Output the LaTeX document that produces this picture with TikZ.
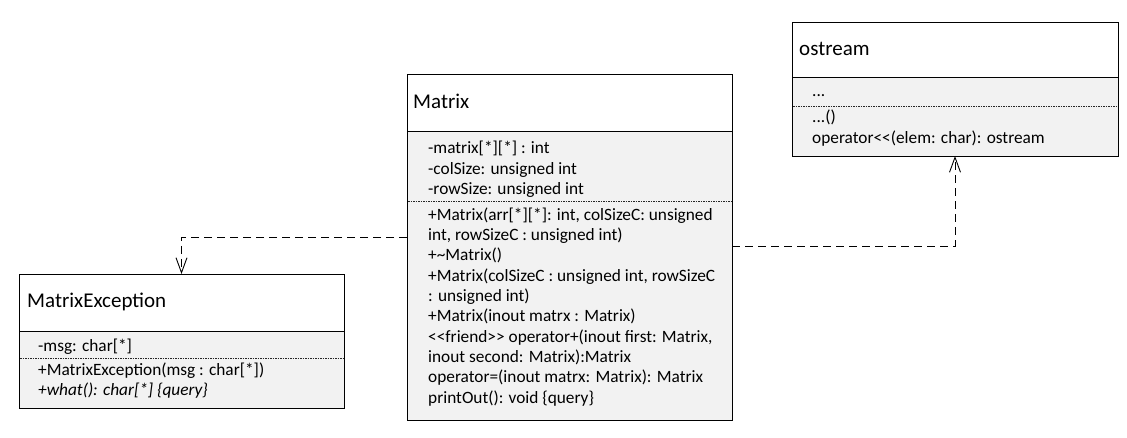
\documentclass[tikz,border=0pt]{standalone}
\usepackage{fontspec}
\setmainfont{Carlito}
\usetikzlibrary{arrows.meta}
\definecolor{bodygray}{HTML}{F2F2F2}
\begin{document}
\begin{tikzpicture}[x=1pt,y=-1pt,
  hdr/.style={draw=black, fill=white, line width=0.9pt, anchor=north west, inner sep=0pt, outer sep=0pt},
  bdy/.style={draw=black, fill=bodygray, line width=0.9pt, anchor=north west, inner sep=0pt, outer sep=0pt},
  ttl/.style={anchor=base west, inner sep=0pt, font=\fontsize{21}{25}\selectfont},
  txt/.style={anchor=base west, inner sep=0pt, font=\fontsize{17.3}{20}\selectfont},
  sep/.style={draw=black!85, line width=0.6pt, dash pattern=on 1.5pt off 1pt},
  dep/.style={draw=black, line width=0.9pt, dash pattern=on 8pt off 5pt, -{Straight Barb[length=15pt,width=11pt,line width=0.9pt]}}
]
\useasboundingbox (0,0) rectangle (1127,438);

% Matrix
\node[bdy, minimum width=325pt, minimum height=289pt] (mb) at (407,131) {};
\node[hdr, minimum width=325pt, minimum height=57pt] (mh) at (407,74) {};
\node[ttl] (mt) at (413,109) {Matrix};
\node[txt] (ma1) at (428,154) {-matrix[*][*] : int};
\node[txt] (ma2) at (428,174.3) {-colSize: unsigned int};
\node[txt] (ma3) at (428,194.6) {-rowSize: unsigned int};
\draw[sep] (408,201) -- (731,201);
\node[txt] (mo1) at (428,220.3) {+Matrix(arr[*][*]: int, colSizeC: unsigned};
\node[txt] (mo2) at (428,240.6) {int, rowSizeC : unsigned int)};
\node[txt] (mo3) at (428,260.9) {+\char`\~Matrix()};
\node[txt] (mo4) at (428,281.2) {+Matrix(colSizeC : unsigned int, rowSizeC};
\node[txt] (mo5) at (428,301.5) {: unsigned int)};
\node[txt] (mo6) at (428,321.8) {+Matrix(inout matrx : Matrix)};
\node[txt] (mo7) at (428,342.1) {<{}<friend>{}> operator+(inout first: Matrix,};
\node[txt] (mo8) at (428,362.4) {inout second: Matrix):Matrix};
\node[txt] (mo9) at (428,382.7) {operator=(inout matrx: Matrix): Matrix};
\node[txt] (mo10) at (428,403) {printOut(): void \{query\}};

% MatrixException
\node[bdy, minimum width=325pt, minimum height=77pt] (eb) at (19,331) {};
\node[hdr, minimum width=325pt, minimum height=57pt] (eh) at (19,274) {};
\node[ttl] (et) at (27,308) {MatrixException};
\node[txt] (ea1) at (38,351) {-msg: char[*]};
\draw[sep] (20,358.5) -- (343,358.5);
\node[txt] (eo1) at (38,375.5) {+MatrixException(msg : char[*])};
\node[txt] (eo2) at (38,395.5) {\itshape +what(): char[*] \{query\}};

% ostream
\node[bdy, minimum width=326pt, minimum height=79pt] (ob) at (792,77) {};
\node[hdr, minimum width=326pt, minimum height=55pt] (oh) at (792,22) {};
\node[ttl] (ot) at (799,55.7) {ostream};
\node[txt] (oa1) at (812,97) {...};
\draw[sep] (793,106) -- (1117,106);
\node[txt] (oo1) at (812,123) {...()};
\node[txt] (oo2) at (812,143.5) {operator<{}<(elem: char): ostream};

% dependencies
\draw[dep] (mb.west |- 0,237.5) -| (eh.north);
\draw[dep] (mb.east |- 0,246) -| (ob.south);
\end{tikzpicture}
\end{document}
